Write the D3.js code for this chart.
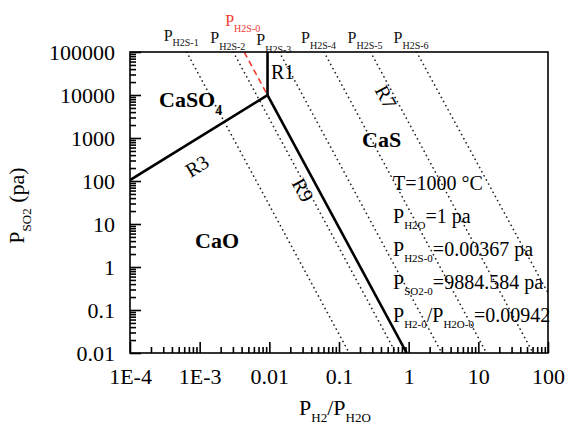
<!DOCTYPE html>
<html>
<head>
<meta charset="utf-8">
<script src="https://cdn.jsdelivr.net/npm/d3@7"></script>
<style>
  body { margin: 0; background: #fff; }
  svg { display: block; font-family: "Liberation Serif", "Times New Roman", serif; }
  .axis path { display: none; }
  .axis text { font-size: 22px; fill: #000; font-family: "Liberation Serif", "Times New Roman", serif; }
</style>
</head>
<body>
<svg width="569" height="427"></svg>
<script>
// Tick values and their printed labels
var xTickValues = [1e-4, 1e-3, 0.01, 0.1, 1, 10, 100];
var xTickLabels = ['1E-4', '1E-3', '0.01', '0.1', '1', '10', '100'];
var yTickValues = [0.01, 0.1, 1, 10, 100, 1000, 10000, 100000];
var yTickLabels = ['0.01', '0.1', '1', '10', '100', '1000', '10000', '100000'];

// Phase boundaries, points are [P_H2/P_H2O, P_SO2]
var boundaryR1 = [[0.00942, 9884.584], [0.00942, 100000]];
var boundaryR3 = [[1e-4, 104.9], [0.00942, 9884.584]];
var boundaryR9 = [[0.00942, 9884.584], [0.938, 0.01]];

// Iso-P_H2S lines (dotted), start and end points
var h2sNames = ['H2S-1', 'H2S-2', 'H2S-3', 'H2S-4', 'H2S-5', 'H2S-6'];
var h2sStart = [[6.5e-4, 1e5], [3.04e-3, 1e5], [0.0139, 1e5], [0.061, 1e5], [0.284, 1e5], [1.3, 1e5]];
var h2sEnd = [[0.14, 0.01], [0.655, 0.01], [2.99, 0.01], [13.1, 0.01], [61, 0.01], [100, 0.25]];

// Reference P_H2S-0 line (red dashed)
var h2s0Line = [[0.00436, 1e5], [0.00942, 9884.584]];

// Conditions block: pieces of [text, isSubscript]
var conditions = [
    [['T=1000 °C', false]],
    [['P', false], ['H2O', true], ['=1 pa', false]],
    [['P', false], ['H2S-0', true], ['=0.00367 pa', false]],
    [['P', false], ['SO2-0', true], ['=9884.584 pa', false]],
    [['P', false], ['H2-0', true], ['/P', false], ['H2O-0', true], ['=0.00942', false]]
];

var svg = d3.select('svg');
var padding = {t: 52, r: 21, b: 74, l: 130};
var svgWidth = +svg.attr('width');
var svgHeight = +svg.attr('height');
var chartWidth = svgWidth - padding.l - padding.r;
var chartHeight = svgHeight - padding.t - padding.b;

var xScale = d3.scaleLog().domain([1e-4, 100]).range([0, chartWidth]);
var yScale = d3.scaleLog().domain([0.01, 100000]).range([chartHeight, 0]);

var chartG = svg.append('g')
    .attr('transform', 'translate(' + [padding.l, padding.t] + ')');

svg.append('clipPath').attr('id', 'plotClip')
    .append('rect').attr('width', chartWidth).attr('height', chartHeight);

// Helper to write text with subscripts
function richText(sel, pieces, mainSize, subSize, subShift) {
    var down = false;
    pieces.forEach(function(p) {
        var t = sel.append('tspan').text(p[0]);
        if (p[1]) {
            t.attr('font-size', subSize).attr('dy', down ? 0 : subShift);
            down = true;
        } else {
            t.attr('font-size', mainSize).attr('dy', down ? -subShift : 0);
            down = false;
        }
    });
    return sel;
}

// Axes: major ticks with labels, minor ticks without, all pointing inward
var xMinor = xScale.ticks().filter(function(d) { return xTickValues.indexOf(d) < 0; });
var yMinor = yScale.ticks().filter(function(d) { return yTickValues.indexOf(d) < 0; });

function styleTicks(g) {
    g.selectAll('line').attr('stroke', '#000').attr('stroke-width', 1.6);
}

chartG.append('g').attr('class', 'axis')
    .attr('transform', 'translate(0,' + chartHeight + ')')
    .call(d3.axisBottom(xScale).tickValues(xMinor).tickSize(-6).tickFormat(''))
    .call(styleTicks);
chartG.append('g').attr('class', 'axis')
    .attr('transform', 'translate(0,' + chartHeight + ')')
    .call(d3.axisBottom(xScale).tickValues(xTickValues).tickSize(-11).tickPadding(15)
        .tickFormat(function(d, i) { return xTickLabels[i]; }))
    .call(styleTicks);

chartG.append('g').attr('class', 'axis')
    .call(d3.axisLeft(yScale).tickValues(yMinor).tickSize(-6).tickFormat(''))
    .call(styleTicks);
chartG.append('g').attr('class', 'axis')
    .call(d3.axisLeft(yScale).tickValues(yTickValues).tickSize(-11).tickPadding(15)
        .tickFormat(function(d, i) { return yTickLabels[i]; }))
    .call(styleTicks);

var line = d3.line()
    .x(function(d) { return xScale(d[0]); })
    .y(function(d) { return yScale(d[1]); });

// Dotted iso-H2S lines
var plotG = chartG.append('g').attr('clip-path', 'url(#plotClip)');
plotG.selectAll('.h2s')
    .data(h2sNames)
    .enter().append('path')
    .attr('class', 'h2s')
    .attr('d', function(d, i) { return line([h2sStart[i], h2sEnd[i]]); })
    .attr('fill', 'none')
    .attr('stroke', '#222')
    .attr('stroke-width', 1.7)
    .attr('stroke-linecap', 'round')
    .attr('stroke-dasharray', '0.1,4.6');

plotG.append('path')
    .attr('d', line(h2s0Line))
    .attr('fill', 'none')
    .attr('stroke', '#f03a30')
    .attr('stroke-width', 1.6)
    .attr('stroke-dasharray', '6,4');

// Phase boundaries
[boundaryR1, boundaryR3, boundaryR9].forEach(function(b) {
    plotG.append('path')
        .attr('d', line(b))
        .attr('fill', 'none')
        .attr('stroke', '#000')
        .attr('stroke-width', 2.6);
});

// Frame
chartG.append('rect')
    .attr('width', chartWidth).attr('height', chartHeight)
    .attr('fill', 'none').attr('stroke', '#000').attr('stroke-width', 1.6);

// Labels on top of the iso-H2S lines
var labelDy = [-11, -9, -7, -9, -9, -9];
var subDy = [5, 7, 8, 6, 6, 6];
h2sNames.forEach(function(name, i) {
    var t = svg.append('text')
        .attr('x', padding.l + xScale(h2sStart[i][0]) - 23)
        .attr('y', padding.t + labelDy[i])
        .attr('fill', '#111');
    richText(t, [['P', false], [name, true]], 16, 10, subDy[i]);
});
var red = svg.append('text')
    .attr('x', padding.l + xScale(h2s0Line[0][0]) - 19)
    .attr('y', padding.t - 26)
    .attr('fill', '#f03a30');
richText(red, [['P', false], ['H2S-0', true]], 16, 10, 6);

// Angles of the lines in screen space
function angleOf(seg) {
    var dx = xScale(seg[1][0]) - xScale(seg[0][0]);
    var dy = yScale(seg[1][1]) - yScale(seg[0][1]);
    return Math.atan2(dy, dx) * 180 / Math.PI;
}

// Reaction labels
chartG.append('text').attr('x', 141).attr('y', 27).attr('font-size', 20).text('R1');
[['R3', 67, 114, angleOf(boundaryR3)],
 ['R9', 173, 138, angleOf(boundaryR9)],
 ['R7', 256, 45, angleOf([h2sStart[4], h2sEnd[4]])]].forEach(function(l) {
    chartG.append('text')
        .attr('transform', 'translate(' + [l[1], l[2]] + ') rotate(' + l[3] + ')')
        .attr('text-anchor', 'middle')
        .attr('dy', '0.35em')
        .attr('font-size', 20)
        .text(l[0]);
});

// Phase region labels
var caso4 = chartG.append('text').attr('x', 29).attr('y', 55)
    .attr('font-weight', 'bold');
richText(caso4, [['CaSO', false], ['4', true]], 22, 14, 8);
chartG.append('text').attr('x', 232).attr('y', 95)
    .attr('font-weight', 'bold').attr('font-size', 22).text('CaS');
chartG.append('text').attr('x', 65).attr('y', 196)
    .attr('font-weight', 'bold').attr('font-size', 22).text('CaO');

// Conditions block
conditions.forEach(function(pieces, i) {
    var t = chartG.append('text')
        .attr('x', 263)
        .attr('y', 138 + i * 33);
    richText(t, pieces, 20, 11, 6);
});

// Axis titles
var xTitle = svg.append('text')
    .attr('x', padding.l + chartWidth / 2 - 4)
    .attr('y', 415)
    .attr('text-anchor', 'middle');
richText(xTitle, [['P', false], ['H2', true], ['/P', false], ['H2O', true]], 22, 13, 7);

var yTitle = svg.append('text')
    .attr('transform', 'translate(24,' + (padding.t + chartHeight / 2 + 3) + ') rotate(-90)')
    .attr('text-anchor', 'middle');
richText(yTitle, [['P', false], ['SO2', true], [' (pa)', false]], 22, 13, 7);
</script>
</body>
</html>
